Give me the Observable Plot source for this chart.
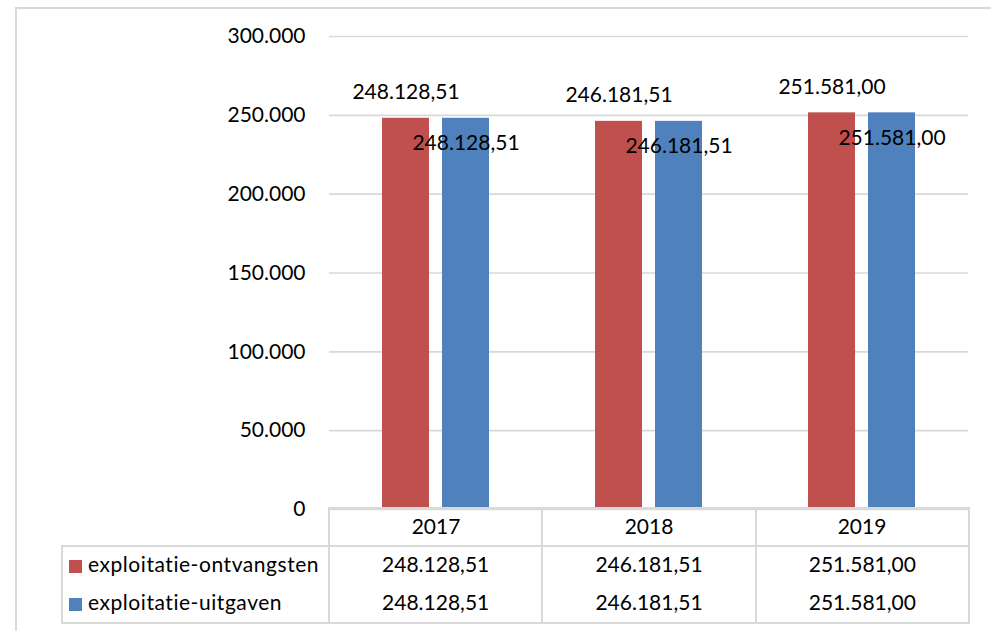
<!DOCTYPE html>
<html>
<head>
<meta charset="utf-8">
<script src="https://cdn.jsdelivr.net/npm/d3@7"></script>
<script src="https://cdn.jsdelivr.net/npm/@observablehq/plot@0.6"></script>
<style>
  html, body { margin: 0; padding: 0; background: #fff; overflow: hidden; }
  body { width: 991px; height: 631px; position: relative; font-family: Lato, sans-serif; }
  #frame { position: absolute; left: 15px; top: 7px; width: 1100px; height: 800px; border: 2px solid #d9d9d9; box-sizing: border-box; }
  #chart { position: absolute; left: 0; top: 0; }
  #table { position: absolute; left: 61px; top: 507px; border-collapse: collapse; table-layout: fixed; font-size: 21px; color: #000; }
  #table td { padding: 0; text-align: center; white-space: nowrap; box-sizing: border-box; }
  #table tr.val td { padding-bottom: 5px; }
  #table td.leg { text-align: left; padding-left: 6px; border-left: 2px solid #d9d9d9; letter-spacing: 0.55px; }
  #table .sw { display: inline-block; width: 13px; height: 13px; margin-right: 6px; vertical-align: -1px; }
</style>
</head>
<body>
<div id="frame"></div>
<div id="chart"></div>
<table id="table"></table>
<script>
const years = ["2017", "2018", "2019"];
const series = ["exploitatie-ontvangsten", "exploitatie-uitgaven"];
const ontvangsten = [248128.51, 246181.51, 251581.00];
const uitgaven = [248128.51, 246181.51, 251581.00];
const yTicks = [0, 50000, 100000, 150000, 200000, 250000, 300000];
const colors = ["#c0504d", "#4f81bd"];

const nl = d3.formatLocale({decimal: ",", thousands: ".", grouping: [3], currency: ["", ""]});
const fmtTick = nl.format(",.0f");
const fmtVal = nl.format(",.2f");

const data = [];
years.forEach((yr, i) => {
  data.push({year: yr, series: series[0], value: ontvangsten[i]});
  data.push({year: yr, series: series[1], value: uitgaven[i]});
});

const grid = "#d9d9d9";
const plot = Plot.plot({
  width: 991,
  height: 631,
  marginLeft: 328,
  marginRight: 23,
  marginTop: 36,
  marginBottom: 122,
  style: {fontFamily: "Lato, sans-serif", fontSize: "21px", color: "#000", background: "transparent"},
  fx: {domain: years, padding: 0, label: null, axis: "bottom", tickSize: 0, tickPadding: 10},
  x: {domain: series, paddingInner: 0.22, paddingOuter: 0.87, align: 0.5, axis: null},
  y: {domain: [0, 300000], axis: null},
  color: {domain: series, range: colors},
  marks: [
    Plot.gridY(yTicks, {stroke: grid, strokeOpacity: 1, strokeWidth: 1.6}),
    Plot.axisY(yTicks, {tickFormat: fmtTick, tickSize: 0, tickPadding: 24, line: true, stroke: grid, strokeWidth: 2, strokeOpacity: 1, fill: "#000", label: null}),
    Plot.barY(data, {fx: "year", x: "series", y: "value", fill: "series"}),
    Plot.text(data.filter(d => d.series === series[0]), {fx: "year", x: "series", y: "value", text: d => fmtVal(d.value), dy: -26, fill: "#000"}),
    Plot.text(data.filter(d => d.series === series[1]), {fx: "year", x: "series", y: "value", text: d => fmtVal(d.value), dy: 25, fill: "#000"})
  ]
});
document.getElementById("chart").appendChild(plot);

// data table below the plot
const colW = (968 - 328) / years.length;
const b = "2px solid " + grid;
const table = document.getElementById("table");
const cg = document.createElement("colgroup");
[267, ...years.map(() => colW)].forEach(w => { const c = document.createElement("col"); c.style.width = w + "px"; cg.appendChild(c); });
table.appendChild(cg);
// year row (labels drawn by the fx axis)
const r0 = table.insertRow();
r0.style.height = "38px";
r0.insertCell();
years.forEach(() => { const c = r0.insertCell(); c.style.borderTop = b; c.style.borderLeft = b; c.style.borderRight = b; });
const vals = [ontvangsten, uitgaven];
series.forEach((s, si) => {
  const r = table.insertRow();
  r.className = "val";
  r.style.height = si === 0 ? "39px" : "38px";
  const lc = r.insertCell();
  lc.className = "leg";
  if (si === 0) lc.style.borderTop = b; else lc.style.borderBottom = b;
  lc.innerHTML = `<span class="sw" style="background:${colors[si]}"></span>${s}`;
  vals[si].forEach(v => {
    const c = r.insertCell();
    c.textContent = fmtVal(v);
    c.style.borderLeft = b; c.style.borderRight = b;
    if (si === 0) c.style.borderTop = b; else c.style.borderBottom = b;
  });
});
</script>
</body>
</html>
